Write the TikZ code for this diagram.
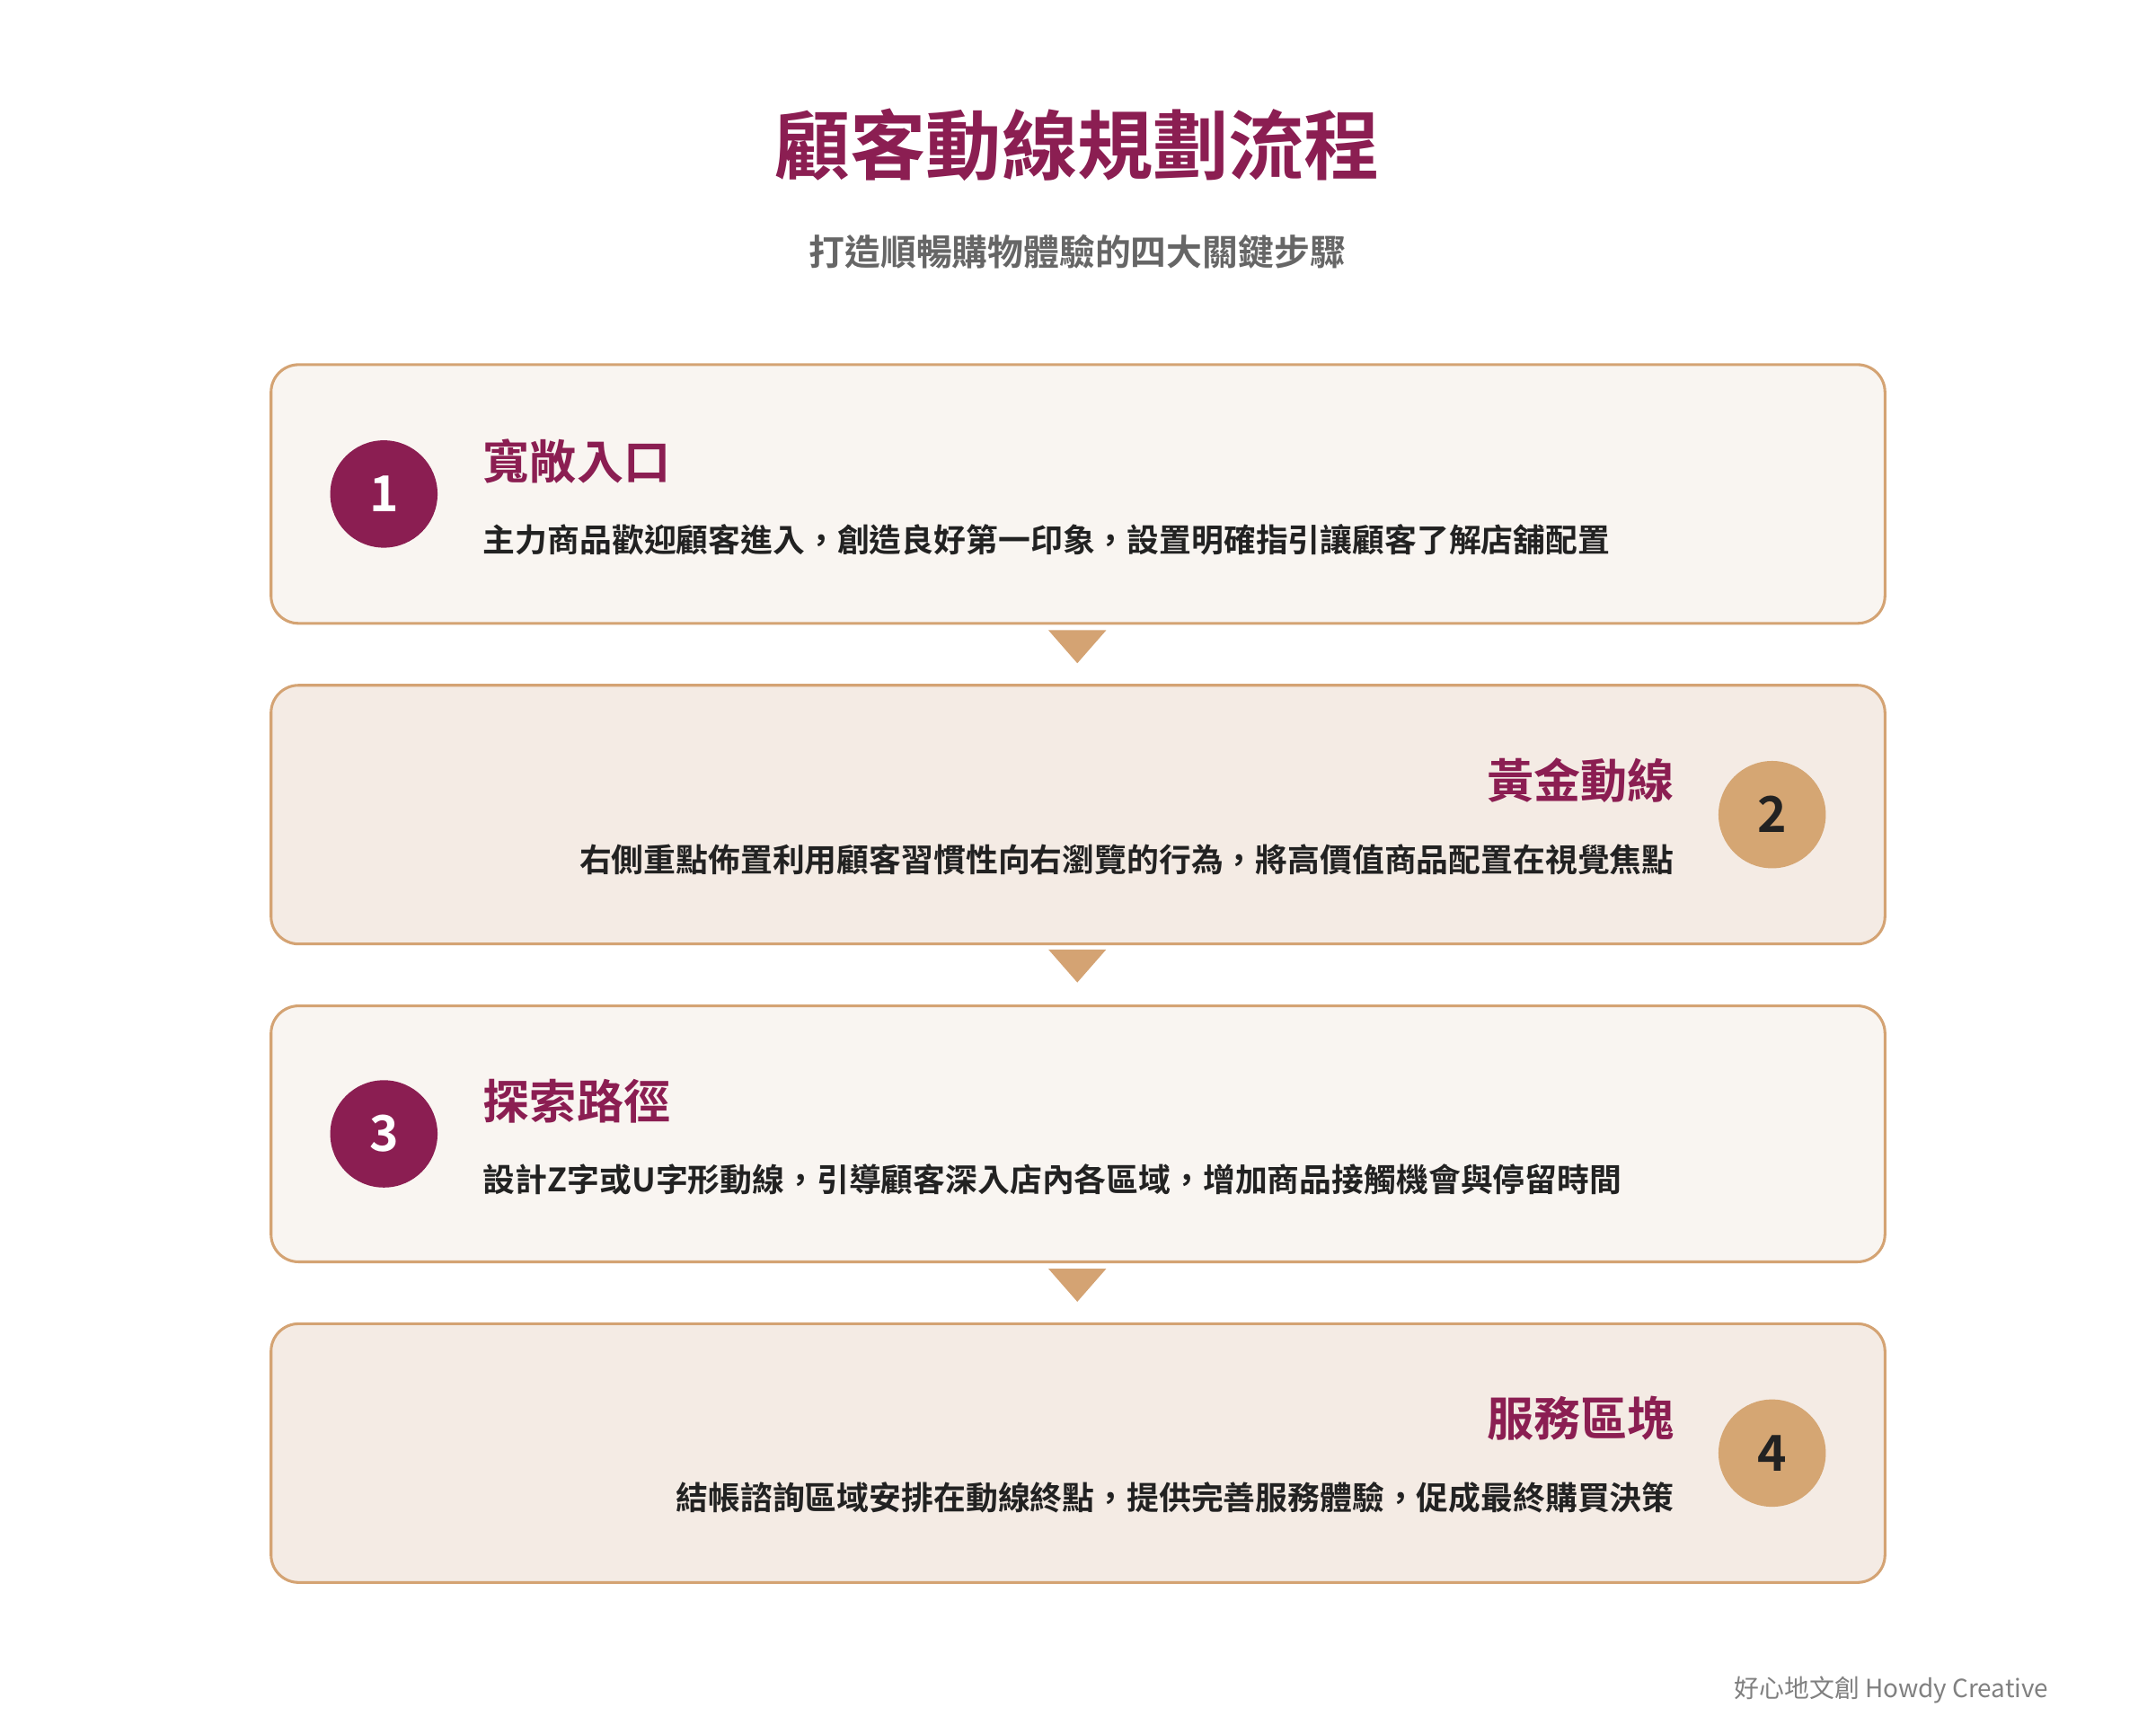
\documentclass[tikz,border=0pt]{standalone}
\usepackage{fontspec}
\setmainfont{Noto Sans CJK TC}
\newfontfamily\cjkb{Noto Sans CJK TC Bold}
\definecolor{maroon}{HTML}{8B1E52}
\definecolor{tan}{HTML}{D4A373}
\definecolor{tanfill}{HTML}{D5A673}
\definecolor{boxa}{HTML}{F9F5F1}
\definecolor{boxb}{HTML}{F4EBE4}
\definecolor{txt}{HTML}{222222}
\begin{document}
\begin{tikzpicture}[x=1pt,y=-1pt,
  card/.style={draw=tan,line width=2pt,rounded corners=20pt},
  num/.style={circle,minimum size=78pt,inner sep=0pt,font=\cjkb\fontsize{36}{36}\selectfont},
  head/.style={font=\cjkb\fontsize{34}{34}\selectfont,text=maroon,inner sep=0pt},
  desc/.style={font=\cjkb\fontsize{23.4}{23.4}\selectfont,text=txt,inner sep=0pt},
  tri/.style={fill=tan,draw=none}]
\useasboundingbox (0,0) rectangle (1567,1253);
\fill[white] (0,0) rectangle (1567,1253);
\node[font=\cjkb\fontsize{55}{55}\selectfont,text=maroon] (title) at (783,105) {顧客動線規劃流程};
\node[font=\cjkb\fontsize{26}{26}\selectfont,text=black!60] (sub) at (783,183) {打造順暢購物體驗的四大關鍵步驟};
% cards
\path[card,fill=boxa] (197,265) rectangle (1370,453);
\path[card,fill=boxb] (197,498) rectangle (1370,686);
\path[card,fill=boxa] (197,731) rectangle (1370,917);
\path[card,fill=boxb] (197,962) rectangle (1370,1150);
\foreach \y in {458,690,922} \fill[tri] (762,\y) -- (804,\y) -- (783,\y+24) -- cycle;
% 1
\node[num,fill=maroon,text=white] (n1) at (279,359) {1};
\node[head,anchor=west] (h1) at (351,335) {寬敞入口};
\node[desc,anchor=west] (d1) at (351,392) {主力商品歡迎顧客進入，創造良好第一印象，設置明確指引讓顧客了解店舖配置};
% 2
\node[num,fill=tanfill,text=txt] (n2) at (1288,592) {2};
\node[head,anchor=east] (h2) at (1217,567) {黃金動線};
\node[desc,anchor=east] (d2) at (1217,625) {右側重點佈置利用顧客習慣性向右瀏覽的行為，將高價值商品配置在視覺焦點};
% 3
\node[num,fill=maroon,text=white] (n3) at (279,824) {3};
\node[head,anchor=west] (h3) at (351,800) {探索路徑};
\node[desc,anchor=west] (d3) at (351,857) {設計Z字或U字形動線，引導顧客深入店內各區域，增加商品接觸機會與停留時間};
% 4
\node[num,fill=tanfill,text=txt] (n4) at (1288,1056) {4};
\node[head,anchor=east] (h4) at (1217,1031) {服務區塊};
\node[desc,anchor=east] (d4) at (1217,1088) {結帳諮詢區域安排在動線終點，提供完善服務體驗，促成最終購買決策};
\node[anchor=east,font=\fontsize{18.2}{18.2}\selectfont,text=black!50,inner sep=0pt] (foot) at (1489,1228) {好心地文創 Howdy Creative};
\end{tikzpicture}
\end{document}
